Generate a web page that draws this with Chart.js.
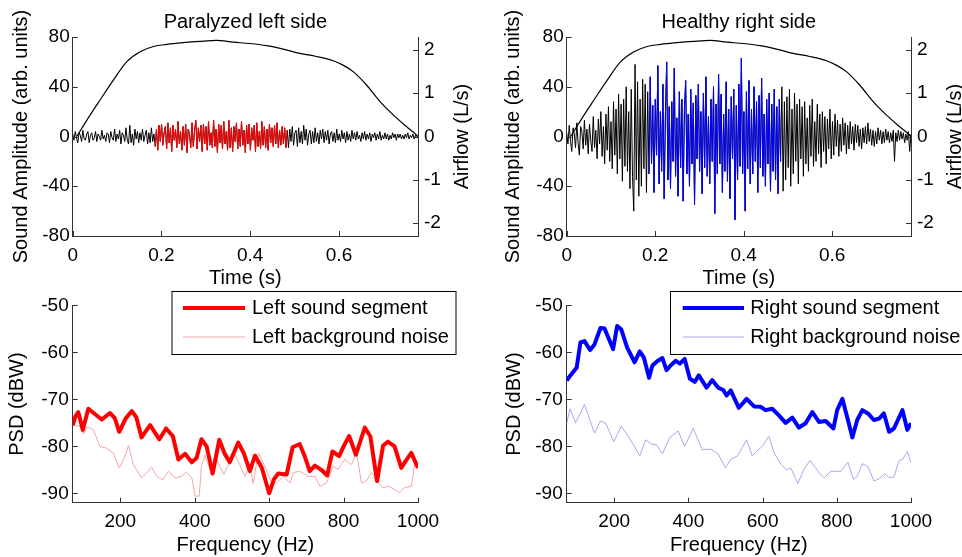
<!DOCTYPE html>
<html>
<head>
<meta charset="utf-8">
<script src="https://cdn.jsdelivr.net/npm/chart.js@4.4.1/dist/chart.umd.min.js"></script>
<style>
  body { margin: 0; background: #fff; width: 962px; height: 557px; overflow: hidden; position: relative; }
  canvas { position: absolute; }
</style>
</head>
<body>
<canvas id="wave-left" width="481" height="290" style="left:0;top:0"></canvas>
<canvas id="wave-right" width="481" height="290" style="left:481px;top:0"></canvas>
<canvas id="psd-left" width="481" height="267" style="left:0;top:290px"></canvas>
<canvas id="psd-right" width="481" height="267" style="left:481px;top:290px"></canvas>
<script>
// --- data ---
const TIME_STEP = 0.00286;         // s between sound samples
const SEGMENT_START = 0.185;       // analysed sound segment (s)
const SEGMENT_END = 0.485;

const TIME_TICKS = [0, 0.2, 0.4, 0.6];
const AMP_TICKS = [-80, -40, 0, 40, 80];
const FLOW_TICKS = [-2, -1, 0, 1, 2];
const FREQ_TICKS = [200, 400, 600, 800, 1000];
const PSD_TICKS = [-90, -80, -70, -60, -50];

const SOUND_LEFT = [
  // before segment
  2, -3, 4, -1, -5, 3, 1, -4, 5, -2,
  -3, 2, 4, -5, 1, 3, -3, -1, 4, -4,
  2, 0, -3, 5, -2, 1, -4, 3, 2, -5,
  4, -1, -3, 6, -4, 2, -2, 5, -6, 3,
  1, -4, 7, -3, -6, 9, -5, 2, -7, 6,
  -2, 4, -5, 3, -3, 6, -4, 1, 5, -6,
  3, -5, 7, -4, 2,
  // segment
  -8, 6, -11, 9, -4, 10, -7, 3, 8, -10,
  11, -5, 7, -12, 9, -3, 6, -9, 12, -6,
  4, -11, 8, -7, 10, -13, 6, 2, -9, 11,
  -8, 5, 13, -10, 7, -4, 9, -12, 10, -6,
  8, -11, 12, -7, 3, -9, 13, -8, 6, -13,
  10, -5, 9, -10, 12, -6, 4, -11, 13, -9,
  7, -12, 8, -4, 11, -10, 6, -8, 12, -7,
  5, -13, 9, -6, 10, -11, 7, -3, 9, -12,
  11, -8, 4, -10, 12, -7, 8, -9, 6, -11,
  10, -5, 7, -8, 9, -6, 11, -9, 5, -7,
  8, -6, 7, -9, 5,
  // after segment
  -9, 6, -4, 8, -7, 3, 5, -8, 7, -5,
  4, -6, 9, -3, 6, -7, 2, 5, -6, 4,
  -5, 7, -4, 3, -6, 5, -2, 6, -5, 4,
  -3, 5, -6, 2, 4, -4, 3, -5, 6, -3,
  2, -4, 5, -2, 3, -5, 4, -3, 2, -4,
  5, -2, 3, -3, 4, -2, 1, -4, 3, -2,
  4, -3, 2, -2, 3, -4, 2, -1, 3, -3,
  2, -2, 4, -3, 1, -2, 3, -2, 2, -3,
  1, -2, 3, -1, 2, -3, 2, -1, 2, -2,
  1, -2, 2, -1, 3, -2, 1, -1, 2, -2,
  1, -1, 0,
];

const SOUND_RIGHT = [
  // before segment
  3, -6, 9, -4, -12, 7, 2, -9, 11, -5,
  -15, 8, 4, -10, 13, -7, 6, -14, 10, -3,
  -12, 16, -9, 5, -18, 14, -6, 20, -16, 8,
  -22, 18, -11, 24, -20, 12, -26, 28, -15, 22,
  -30, 34, -18, 26, -36, 30, -24, 40, -28, 20,
  -42, 38, -32, -60, 58, -35, 44, -48, 30, -40,
  46, -26, 42, -45, 36,
  // segment
  -30, 48, -22, 25, -45, 30, -15, 57, -38, 20,
  -28, 42, -50, 18, 60, -35, 24, -42, 28, -20,
  55, -32, 15, -48, 36, -25, 30, -52, 22, 45,
  -30, 18, -40, 38, -22, 27, -55, 33, -18, 42,
  -28, 20, -46, 35, -25, 48, -32, 16, -38, 30,
  -20, 40, -62, 26, -30, 50, -22, 34, -45, 18,
  -28, 44, -36, 22, -50, 32, -18, 38, -67, 25,
  -35, 42, -24, 63, -30, 20, -60, 36, -26, 45,
  -38, 22, -30, 40, -20, 28, -45, 33, -25, 47,
  -32, 18, -40, 30, -22, 35, -44, 26, -28, 38,
  -35, 24, -46, 30, -20,
  // after segment
  40, -44, 28, -35, 32, -25, 38, -40, 22, -30,
  35, -20, 26, -38, 30, -18, 24, -32, 28, -22,
  15, -28, 25, -16, 30, -24, 12, -20, 26, -14,
  18, -25, 20, -12, 16, -22, 14, -10, 22, -18,
  12, -15, 18, -8, 13, -16, 10, -12, 15, -7,
  11, -14, 9, -10, 12, -6, 8, -11, 10, -5,
  9, -8, 6, -10, 7, -5, 8, -6, 11, -4,
  6, -7, 5, -8, 4, -6, 7, -3, 5, -6,
  4, -5, 6, -3, 4, -5, 3, -4, 5, -20,
  3, -4, 5, -3, 4, -2, 3, -5, 2, -3,
  4, -12, 2,
];

const AIRFLOW_T = [0.009, 0.032, 0.062, 0.092, 0.122, 0.152, 0.182, 0.212, 0.249, 0.287, 0.324, 0.362, 0.399,
  0.437, 0.474, 0.512, 0.549, 0.587, 0.609, 0.632, 0.662, 0.692, 0.722, 0.752, 0.774, 0.778];
const AIRFLOW_V = [0, 0.38, 0.85, 1.31, 1.73, 1.96, 2.08, 2.13, 2.17, 2.20, 2.22, 2.18, 2.15,
  2.10, 2.02, 1.92, 1.85, 1.75, 1.65, 1.50, 1.19, 0.81, 0.50, 0.23, 0.04, 0];

const LEFT_SEG_F = [72, 80, 87, 99, 114, 130, 150, 172, 185, 197, 215, 231, 243, 257, 280, 305, 323, 341, 356, 374,
  392, 405, 418, 432, 448, 466, 480, 494, 517, 532, 548, 562, 580, 600, 613, 624, 647, 663, 682, 695,
  709, 723, 740, 756, 770, 788, 800, 815, 833, 857, 872, 890, 906, 919, 937, 955, 968, 982, 1000];
const LEFT_SEG_DB = [-75.5, -73.5, -72.7, -76.5, -72.0, -73.0, -74.3, -72.9, -74.0, -76.9, -74.0, -72.5, -73.8, -78.1, -75.5, -78.5, -76.2, -77.8, -82.8, -81.6,
  -83.4, -82.5, -78.5, -80.0, -85.8, -78.6, -81.5, -83.4, -79.2, -81.5, -85.3, -82.0, -84.5, -90.0, -87.0, -85.8, -86.0, -80.2, -79.5, -82.0,
  -85.3, -84.1, -85.0, -86.2, -81.1, -82.1, -80.0, -77.8, -81.8, -76.0, -77.9, -87.4, -79.9, -79.0, -80.0, -84.6, -83.0, -81.4, -84.6];

const LEFT_NOISE_F = [72, 92, 101, 111, 128, 145, 163, 181, 197, 213, 222, 235, 257, 275, 284, 298, 315, 329, 347, 365,
  378, 392, 401, 412, 418, 427, 441, 459, 478, 494, 508, 521, 535, 548, 557, 571, 584, 606, 620, 638,
  656, 665, 682, 705, 723, 736, 754, 772, 785, 803, 821, 835, 848, 861, 875, 893, 906, 920, 937, 951,
  964, 982, 991, 1000];
const LEFT_NOISE_DB = [-75.5, -75.8, -77.4, -75.8, -76.5, -80.0, -80.4, -81.4, -84.6, -82.1, -79.8, -83.9, -86.7, -85.3, -84.4, -86.4, -87.1, -85.3, -86.7, -86.4,
  -85.5, -86.7, -90.6, -90.6, -84.2, -81.8, -84.9, -82.8, -86.0, -83.2, -81.8, -83.9, -86.4, -83.9, -87.9, -81.4, -83.5, -87.6, -87.8, -86.4,
  -87.8, -85.6, -85.3, -86.4, -86.4, -88.5, -87.8, -84.2, -84.9, -82.8, -83.9, -81.4, -87.8, -87.4, -85.6, -87.8, -88.8, -88.5, -89.2, -89.9,
  -88.8, -88.5, -83.9, -84.2];

const RIGHT_SEG_F = [72, 82, 99, 109, 120, 135, 147, 163, 174, 186, 197, 208, 219, 235, 255, 269, 280, 294, 303, 316,
  330, 341, 352, 366, 377, 390, 404, 417, 428, 449, 464, 480, 494, 503, 514, 536, 557, 577, 595, 608,
  626, 644, 662, 680, 698, 716, 734, 752, 770, 791, 801, 815, 830, 842, 855, 869, 884, 900, 914, 927,
  941, 954, 977, 990, 1000];
const RIGHT_SEG_DB = [-66.0, -64.9, -63.2, -57.9, -57.6, -59.5, -58.3, -54.8, -54.9, -57.2, -59.3, -54.4, -55.1, -59.0, -62.1, -59.8, -61.1, -65.4, -62.8, -61.9,
  -61.2, -63.8, -62.8, -61.8, -62.4, -61.4, -65.6, -66.3, -64.9, -67.5, -65.9, -67.5, -68.0, -69.2, -68.1, -71.8, -69.9, -71.5, -71.6, -72.3,
  -72.0, -73.4, -75.0, -73.9, -76.0, -75.1, -72.7, -74.8, -74.6, -76.2, -72.3, -69.9, -74.4, -78.1, -74.4, -72.3, -73.0, -74.4, -74.1, -73.0,
  -76.9, -76.2, -72.3, -76.5, -75.1];

const RIGHT_NOISE_F = [72, 81, 96, 120, 147, 163, 177, 199, 219, 244, 269, 285, 300, 314, 330, 350, 372, 390, 413, 437,
  460, 480, 500, 514, 532, 557, 572, 584, 599, 617, 631, 650, 665, 676, 695, 712, 728, 740, 752, 766,
  784, 811, 830, 845, 855, 869, 884, 900, 914, 929, 941, 954, 968, 977, 990, 1000];
const RIGHT_NOISE_DB = [-75.1, -72.0, -75.0, -71.1, -77.2, -74.6, -75.1, -79.0, -75.7, -78.6, -82.0, -78.6, -79.5, -79.7, -81.6, -78.1, -76.7, -80.0, -76.2, -80.7,
  -80.6, -81.6, -84.6, -82.8, -82.1, -78.6, -82.0, -81.1, -80.0, -77.9, -81.4, -83.9, -85.0, -84.6, -87.9, -84.8, -83.0, -84.3, -85.6, -86.7,
  -85.3, -85.3, -83.4, -87.1, -86.4, -83.7, -84.3, -87.4, -86.9, -85.8, -86.7, -86.5, -83.0, -82.8, -81.1, -83.5];

// --- styling ---
const AXIS_COLOR = '#333';
const TICK_LEN = 5;
const TICK_FONT = { size: 19 };
const LABEL_FONT = { size: 20 };

Chart.defaults.font.family = "'Liberation Sans', Arial, sans-serif";
Chart.defaults.color = '#000';

const pairs = (xs, ys) => xs.map((x, i) => ({ x, y: ys[i] }));
const sampled = (vals) => vals.map((y, i) => ({ x: +(i * TIME_STEP).toFixed(5), y }));
const fixTicks = (list) => (s) => { s.ticks = list.map(v => ({ value: v })); };

// MATLAB look: inward tick marks, bottom-to-top right axis label, boxed legend
const matlabDecor = {
  id: 'matlabDecor',
  afterDraw(chart, args, opts) {
    const { ctx, chartArea: a } = chart;
    ctx.save();
    ctx.strokeStyle = AXIS_COLOR;
    ctx.lineWidth = 1;
    Object.values(chart.scales).forEach(s => {
      s.ticks.forEach(t => {
        const p = Math.round(s.getPixelForValue(t.value)) + 0.5;
        ctx.beginPath();
        if (s.position === 'left') { ctx.moveTo(a.left, p); ctx.lineTo(a.left + TICK_LEN, p); }
        else if (s.position === 'right') { ctx.moveTo(a.right, p); ctx.lineTo(a.right - TICK_LEN, p); }
        else { ctx.moveTo(p, a.bottom); ctx.lineTo(p, a.bottom - TICK_LEN); }
        ctx.stroke();
      });
    });

    ctx.fillStyle = '#000';
    ctx.font = `${LABEL_FONT.size}px ${Chart.defaults.font.family}`;
    if (opts.rightTitle) {
      ctx.save();
      ctx.translate(a.right + opts.rightTitleOffset, (a.top + a.bottom) / 2);
      ctx.rotate(-Math.PI / 2);
      ctx.textAlign = 'center';
      ctx.textBaseline = 'middle';
      ctx.fillText(opts.rightTitle, 0, 0);
      ctx.restore();
    }

    const lg = opts.legend;
    if (lg) {
      ctx.fillStyle = '#fff';
      ctx.fillRect(lg.x, lg.y, lg.w, lg.h);
      ctx.strokeStyle = '#000';
      ctx.strokeRect(lg.x + 0.5, lg.y + 0.5, lg.w, lg.h);
      chart.data.datasets.forEach((ds, i) => {
        const y = lg.rows[i];
        ctx.strokeStyle = ds.borderColor;
        ctx.lineWidth = ds.borderWidth;
        ctx.beginPath();
        ctx.moveTo(lg.line0, y);
        ctx.lineTo(lg.line1, y);
        ctx.stroke();
        ctx.fillStyle = '#000';
        ctx.textAlign = 'left';
        ctx.textBaseline = 'middle';
        ctx.fillText(ds.label, lg.text, y);
      });
    }
    ctx.restore();
  },
};

const baseOptions = () => ({
  animation: false,
  responsive: false,
  events: [],
  elements: { point: { radius: 0 }, line: { tension: 0, borderJoinStyle: 'round' } },
  plugins: { legend: { display: false }, tooltip: { enabled: false } },
});

const axisBase = (ticks, pad) => ({
  type: 'linear',
  afterBuildTicks: fixTicks(ticks),
  grid: { display: false, drawTicks: false },
  border: { display: true, color: AXIS_COLOR, width: 1 },
  ticks: { font: TICK_FONT, color: '#000', padding: pad, autoSkip: false, maxRotation: 0, callback: v => String(v) },
});

const buildWaveChart = (id, sound, segColor, titleText, area) => {
  const opts = baseOptions();
  opts.layout = { padding: 0 };
  opts.plugins.title = {
    display: true, text: titleText, fullSize: false, color: '#000',
    font: { size: 20, weight: 'normal' }, padding: { top: 10, bottom: 3 },
  };
  opts.plugins.matlabDecor = { rightTitle: 'Airflow (L/s)', rightTitleOffset: 44 };
  opts.scales = {
    x: {
      ...axisBase(TIME_TICKS, 8), min: 0, max: 0.778,
      afterFit: s => { s.height = 290 - area.bottom; },
      title: { display: true, text: 'Time (s)', font: LABEL_FONT, color: '#000', padding: 0 },
    },
    y: {
      ...axisBase(AMP_TICKS, 3), position: 'left', min: -80, max: 80,
      afterFit: s => { s.width = area.left; },
      title: { display: true, text: 'Sound Amplitude (arb. units)', font: LABEL_FONT, color: '#000', padding: { top: area.titlePad, bottom: 0 } },
    },
    y2: {
      ...axisBase(FLOW_TICKS, 6), position: 'right', min: -2.3, max: 2.3,
      afterFit: s => { s.width = 481 - area.right; },
    },
  };

  const all = sampled(sound);
  return new Chart(document.getElementById(id), {
    type: 'line',
    data: {
      datasets: [
        { label: 'Airflow', data: pairs(AIRFLOW_T, AIRFLOW_V), yAxisID: 'y2', borderColor: '#000', borderWidth: 1.2, cubicInterpolationMode: 'monotone' },
        { label: 'Segment', data: all.filter(p => p.x >= SEGMENT_START && p.x <= SEGMENT_END), borderColor: segColor, borderWidth: 1 },
        { label: 'Sound', data: all, borderColor: '#000', borderWidth: 1 },
      ],
    },
    options: opts,
    plugins: [matlabDecor],
  });
};

const buildPsdChart = (id, series, area, legend) => {
  const opts = baseOptions();
  opts.layout = { padding: { top: 14, right: 481 - area.right, left: 0, bottom: 0 } };
  opts.plugins.matlabDecor = { legend };
  opts.scales = {
    x: {
      ...axisBase(FREQ_TICKS, 8), min: 72, max: 1000,
      afterFit: s => { s.height = 267 - 212.7; },
      title: { display: true, text: 'Frequency (Hz)', font: LABEL_FONT, color: '#000', padding: 0 },
    },
    y: {
      ...axisBase(PSD_TICKS, 4), position: 'left', min: -92, max: -50,
      afterFit: s => { s.width = area.left; },
      title: { display: true, text: 'PSD (dBW)', font: LABEL_FONT, color: '#000', padding: { top: area.titlePad, bottom: 0 } },
    },
  };

  return new Chart(document.getElementById(id), {
    type: 'line',
    data: {
      datasets: series.map(s => ({ label: s.label, data: pairs(s.f, s.db), borderColor: s.color, borderWidth: s.width })),
    },
    options: opts,
    plugins: [matlabDecor],
  });
};

buildWaveChart('wave-left', SOUND_LEFT, '#ff0000', 'Paralyzed left side', { left: 72.7, right: 418, bottom: 236, titlePad: 9 });
buildWaveChart('wave-right', SOUND_RIGHT, '#0000ff', 'Healthy right side', { left: 85.7, right: 430, bottom: 236, titlePad: 20 });

buildPsdChart('psd-left', [
  { label: 'Left sound segment', f: LEFT_SEG_F, db: LEFT_SEG_DB, color: '#ff0000', width: 4 },
  { label: 'Left background noise', f: LEFT_NOISE_F, db: LEFT_NOISE_DB, color: '#f4a6a6', width: 1 },
], { left: 72.7, right: 418, titlePad: 5 },
{ x: 171.5, y: 1, w: 284, h: 63, line0: 183, line1: 245, text: 252, rows: [18, 47] });

buildPsdChart('psd-right', [
  { label: 'Right sound segment', f: RIGHT_SEG_F, db: RIGHT_SEG_DB, color: '#0000ff', width: 4 },
  { label: 'Right background noise', f: RIGHT_NOISE_F, db: RIGHT_NOISE_DB, color: '#a8a8ee', width: 1 },
], { left: 85.7, right: 430, titlePad: 21 },
{ x: 189, y: 1, w: 300, h: 63, line0: 201.7, line1: 263, text: 269.3, rows: [18, 47] });
</script>
</body>
</html>
